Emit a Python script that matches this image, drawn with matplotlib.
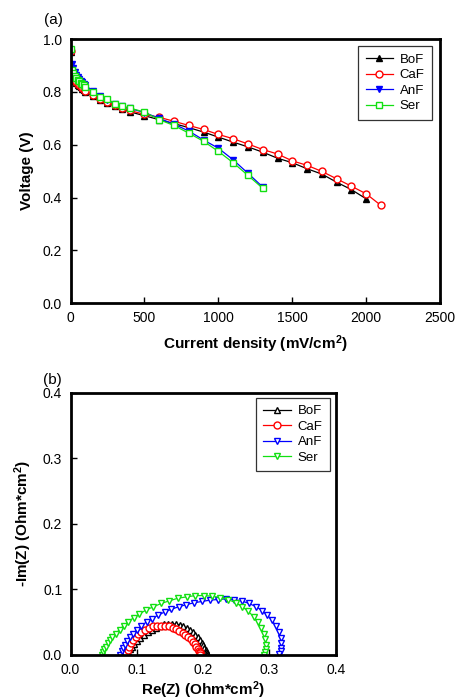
import matplotlib
matplotlib.use("Agg")
import matplotlib.pyplot as plt

plt.rcParams['font.family'] = ['Liberation Sans', 'DejaVu Sans']
plt.rcParams['mathtext.fontset'] = 'custom'
plt.rcParams['mathtext.rm'] = 'Liberation Sans'
plt.rcParams['mathtext.bf'] = 'Liberation Sans:bold'

# ---------------- Panel (a): polarization curves ----------------
current_low = [0, 10, 20, 30, 40, 50, 60, 70, 80, 90, 100, 150, 200, 250, 300, 350, 400, 500]
bof_current = current_low + [600, 700, 800, 900, 1000, 1100, 1200, 1300, 1400, 1500, 1600, 1700, 1800, 1900, 2000]
bof_voltage = [0.95, 0.86, 0.85, 0.84, 0.835, 0.828, 0.822, 0.817, 0.812, 0.806, 0.80, 0.785, 0.77, 0.758, 0.745, 0.735, 0.725, 0.71,
               0.695, 0.68, 0.665, 0.648, 0.629, 0.61, 0.592, 0.572, 0.549, 0.532, 0.509, 0.489, 0.458, 0.43, 0.395]

caf_current = current_low + [600, 700, 800, 900, 1000, 1100, 1200, 1300, 1400, 1500, 1600, 1700, 1800, 1900, 2000, 2100]
caf_voltage = [0.955, 0.865, 0.855, 0.845, 0.838, 0.832, 0.826, 0.821, 0.816, 0.81, 0.805, 0.79, 0.775, 0.762, 0.75, 0.74, 0.73, 0.715,
               0.704, 0.689, 0.673, 0.658, 0.639, 0.623, 0.603, 0.582, 0.565, 0.539, 0.522, 0.499, 0.471, 0.443, 0.414, 0.37]

anf_current = current_low + [600, 700, 800, 900, 1000, 1100, 1200, 1300]
anf_voltage = [0.95, 0.905, 0.89, 0.876, 0.865, 0.856, 0.848, 0.842, 0.836, 0.83, 0.825, 0.805, 0.785, 0.77, 0.755, 0.745, 0.738, 0.722,
               0.70, 0.678, 0.652, 0.618, 0.587, 0.543, 0.492, 0.44]

ser_current = current_low + [600, 700, 800, 900, 1000, 1100, 1200, 1300]
ser_voltage = [0.962, 0.885, 0.872, 0.862, 0.853, 0.846, 0.84, 0.835, 0.83, 0.825, 0.82, 0.80, 0.782, 0.772, 0.756, 0.746, 0.739, 0.724,
               0.695, 0.673, 0.644, 0.613, 0.575, 0.532, 0.484, 0.435]

# ---------------- Panel (b): Nyquist plots ----------------
bof_re = [0.084, 0.086, 0.089, 0.092, 0.096, 0.100, 0.105, 0.111, 0.117, 0.123, 0.129, 0.135, 0.141, 0.147, 0.153, 0.159, 0.165, 0.170,
          0.175, 0.180, 0.184, 0.188, 0.192, 0.195, 0.198, 0.200, 0.202, 0.204, 0.205, 0.206, 0.206]
bof_im = [0.000, 0.004, 0.008, 0.012, 0.016, 0.020, 0.025, 0.030, 0.034, 0.038, 0.041, 0.044, 0.046, 0.047, 0.047, 0.046, 0.045, 0.043,
          0.040, 0.037, 0.034, 0.030, 0.026, 0.022, 0.018, 0.014, 0.010, 0.007, 0.004, 0.002, 0.000]

caf_re = [0.084, 0.086, 0.088, 0.091, 0.094, 0.098, 0.102, 0.107, 0.112, 0.118, 0.124, 0.130, 0.136, 0.142, 0.148, 0.154, 0.159, 0.164,
          0.169, 0.173, 0.177, 0.181, 0.184, 0.187, 0.190, 0.192, 0.194, 0.195, 0.196, 0.196]
caf_im = [0.002, 0.007, 0.012, 0.017, 0.022, 0.027, 0.031, 0.035, 0.038, 0.041, 0.043, 0.044, 0.044, 0.044, 0.043, 0.041, 0.039, 0.036,
          0.033, 0.030, 0.026, 0.023, 0.019, 0.016, 0.012, 0.009, 0.006, 0.004, 0.002, 0.000]

anf_re = [0.075, 0.077, 0.079, 0.082, 0.085, 0.089, 0.094, 0.100, 0.107, 0.115, 0.123, 0.132, 0.142, 0.152, 0.163, 0.174, 0.186, 0.198,
          0.210, 0.222, 0.234, 0.246, 0.258, 0.269, 0.280, 0.289, 0.297, 0.304, 0.310, 0.314, 0.317, 0.318, 0.318, 0.317, 0.315]
anf_im = [0.000, 0.005, 0.010, 0.015, 0.020, 0.026, 0.032, 0.038, 0.044, 0.050, 0.055, 0.060, 0.065, 0.069, 0.073, 0.076, 0.079, 0.081,
          0.083, 0.084, 0.085, 0.084, 0.082, 0.078, 0.073, 0.067, 0.060, 0.052, 0.043, 0.034, 0.025, 0.017, 0.010, 0.005, 0.001]

ser_re = [0.047, 0.049, 0.051, 0.053, 0.056, 0.059, 0.063, 0.068, 0.074, 0.080, 0.087, 0.095, 0.104, 0.114, 0.125, 0.137, 0.149, 0.162,
          0.175, 0.188, 0.201, 0.214, 0.226, 0.238, 0.249, 0.259, 0.268, 0.276, 0.283, 0.288, 0.292, 0.294, 0.295, 0.295, 0.294, 0.292]
ser_im = [0.000, 0.004, 0.008, 0.012, 0.017, 0.022, 0.027, 0.032, 0.038, 0.044, 0.050, 0.056, 0.062, 0.068, 0.073, 0.078, 0.082, 0.086,
          0.088, 0.090, 0.090, 0.089, 0.087, 0.084, 0.079, 0.073, 0.066, 0.058, 0.049, 0.040, 0.031, 0.023, 0.015, 0.008, 0.004, 0.000]

fig = plt.figure(figsize=(4.58, 7.0), dpi=100)

ax1 = fig.add_axes([0.154, 0.567, 0.807, 0.377])
ax2 = fig.add_axes([0.154, 0.065, 0.579, 0.374])

GREEN = '#11e011'
ms = 5
lw = 0.9
ax1.plot(bof_current, bof_voltage, color='black', marker='^', ms=ms, mfc='black', mec='black', lw=lw, label='BoF')
ax1.plot(caf_current, caf_voltage, color='red', marker='o', ms=ms, mfc='white', mec='red', lw=lw, label='CaF')
ax1.plot(anf_current, anf_voltage, color='blue', marker='v', ms=ms, mfc='blue', mec='blue', lw=lw, label='AnF')
ax1.plot(ser_current, ser_voltage, color=GREEN, marker='s', ms=ms, mfc='white', mec=GREEN, lw=lw, label='Ser')

ax1.set_xlim(0, 2500)
ax1.set_ylim(0, 1.0)
ax1.set_xticks([0, 500, 1000, 1500, 2000, 2500])
ax1.set_yticks([0.0, 0.2, 0.4, 0.6, 0.8, 1.0])
ax1.set_yticklabels(['0.0', '0.2', '0.4', '0.6', '0.8', '1.0'])
ax1.set_xlabel(r'Current density (mV/cm$\mathbf{^2}$)', fontsize=11, fontweight='bold', labelpad=6)
ax1.set_ylabel('Voltage (V)', fontsize=11, fontweight='bold', labelpad=6)

leg_kw = dict(fontsize=9.5, frameon=True, fancybox=False, edgecolor='black', handlelength=2.1,
              borderpad=0.55, labelspacing=0.25, handletextpad=0.5, borderaxespad=0.0)
leg1 = ax1.legend(loc='upper right', bbox_to_anchor=(0.978, 0.973), **leg_kw)
leg1.get_frame().set_linewidth(0.9)

ax2.plot(bof_re, bof_im, color='black', marker='^', ms=ms, mfc='white', mec='black', lw=lw, label='BoF')
ax2.plot(caf_re, caf_im, color='red', marker='o', ms=ms, mfc='white', mec='red', lw=lw, label='CaF')
ax2.plot(anf_re, anf_im, color='blue', marker='v', ms=ms, mfc='white', mec='blue', lw=lw, label='AnF')
ax2.plot(ser_re, ser_im, color=GREEN, marker='v', ms=ms, mfc='white', mec=GREEN, lw=lw, label='Ser')

ax2.set_xlim(0, 0.4)
ax2.set_ylim(0, 0.4)
ax2.set_xticks([0.0, 0.1, 0.2, 0.3, 0.4])
ax2.set_xticklabels(['0.0', '0.1', '0.2', '0.3', '0.4'])
ax2.set_yticks([0.0, 0.1, 0.2, 0.3, 0.4])
ax2.set_yticklabels(['0.0', '0.1', '0.2', '0.3', '0.4'])
ax2.set_xlabel(r'Re(Z) (Ohm*cm$\mathbf{^2}$)', fontsize=11, fontweight='bold', labelpad=2)
ax2.set_ylabel(r'-Im(Z) (Ohm*cm$\mathbf{^2}$)', fontsize=11, fontweight='bold', labelpad=6)
leg2 = ax2.legend(loc='upper right', bbox_to_anchor=(0.977, 0.98), **leg_kw)
leg2.get_frame().set_linewidth(0.9)

for ax in (ax1, ax2):
    for s in ax.spines.values():
        s.set_linewidth(2.0)
    ax.tick_params(direction='in', length=4, width=1, labelsize=10, pad=6)

fig.text(0.097, 0.972, '(a)', fontsize=11, ha='left', va='center')
fig.text(0.094, 0.457, '(b)', fontsize=11, ha='left', va='center')

fig.savefig('out.png', dpi=100)
